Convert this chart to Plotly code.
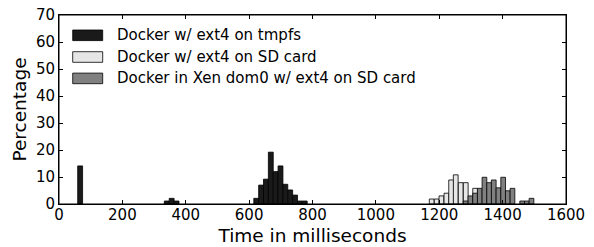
import plotly.graph_objects as go

# ---- data ----
series_names = [
    "Docker w/ ext4 on tmpfs",
    "Docker w/ ext4 on SD card",
    "Docker in Xen dom0 w/ ext4 on SD card",
]

tmpfs_x = [66.7, 340.0, 355.5, 371.0, 622.5, 637.8, 653.1, 668.4, 683.7,
           699.0, 714.3, 729.6, 744.9, 760.2, 775.5]
tmpfs_y = [14.1, 1.1, 2.1, 1.1, 2.1, 7.0, 9.2, 19.2, 12.0,
           14.1, 7.3, 5.2, 3.3, 1.1, 1.1]

sd_x = [1176.2, 1192.0, 1206.9, 1222.7, 1237.5, 1252.0, 1267.8, 1283.6,
        1299.4, 1313.3]
sd_y = [1.85, 1.85, 3.0, 4.0, 8.9, 10.8, 7.9, 7.9, 0.0, 5.8]

xen_x = [1283.6, 1298.4, 1313.2, 1327.8, 1342.6, 1357.4, 1372.0, 1386.9,
         1401.7, 1416.3, 1431.1, 1461.7, 1476.3, 1491.1]
xen_y = [1.1, 3.0, 4.0, 5.8, 9.9, 7.9, 8.9, 6.0, 9.9, 4.9, 5.8, 1.1, 1.1, 2.1]

x_ticks = [0, 200, 400, 600, 800, 1000, 1200, 1400, 1600]
y_ticks = [0, 10, 20, 30, 40, 50, 60, 70]

colors = ["#1a1a1a", "#e6e6e6", "#808080"]

FONT = "DejaVu Sans"

fig = go.Figure()
for xs, ys, col, w, name in [
    (tmpfs_x, tmpfs_y, colors[0], 15.4, series_names[0]),
    (sd_x, sd_y, colors[1], 15.1, series_names[1]),
    (xen_x, xen_y, colors[2], 14.9, series_names[2]),
]:
    fig.add_trace(go.Bar(
        x=xs, y=ys, width=w, name=name,
        marker=dict(color=col, line=dict(color="black", width=0.8)),
        showlegend=False,
    ))

W, H = 594, 247
ml, mr, mt, mb = 59, 28, 15, 43
pw, ph = W - ml - mr, H - mt - mb

def px_x(p):  # window pixel -> paper
    return (p - ml) / pw

def px_y(p):
    return (H - mb - p) / ph

row_centers = [35.3, 57.0, 78.4]
shapes = [dict(type="rect", xref="paper", yref="paper", x0=0, x1=1, y0=0, y1=1,
               line=dict(color="black", width=1), fillcolor="rgba(0,0,0,0)")]
annotations = []
for name, col, yc in zip(series_names, colors, row_centers):
    shapes.append(dict(type="rect", xref="paper", yref="paper",
                       x0=px_x(72.7), x1=px_x(102.7),
                       y0=px_y(yc + 5.3), y1=px_y(yc - 5.3),
                       fillcolor=col, line=dict(color="black", width=0.8)))
    annotations.append(dict(xref="paper", yref="paper", x=px_x(114.5),
                            y=px_y(yc), text=name, showarrow=False,
                            xanchor="left", yanchor="middle",
                            font=dict(family=FONT, size=15, color="black")))

fig.update_layout(
    width=W, height=H,
    margin=dict(l=ml, r=mr, t=mt, b=mb, pad=0, autoexpand=False),
    barmode="overlay",
    plot_bgcolor="white", paper_bgcolor="white",
    font=dict(family=FONT, size=15, color="black"),
    shapes=shapes, annotations=annotations,
    xaxis=dict(range=[0, 1600], tickvals=x_ticks, ticks="inside", ticklen=4,
               showgrid=False, zeroline=False, showline=True, linecolor="black",
               linewidth=1, mirror="ticks", tickcolor="black", automargin=False,
               tickfont=dict(size=15), ticklabelstandoff=-3,
               title=dict(text="Time in milliseconds", font=dict(size=18.5), standoff=6)),
    yaxis=dict(range=[0, 70], tickvals=y_ticks, ticks="inside", ticklen=4,
               showgrid=False, zeroline=False, showline=True, linecolor="black",
               linewidth=1, mirror="ticks", tickcolor="black", automargin=False,
               tickfont=dict(size=15),
               title=dict(text="Percentage", font=dict(size=18.5), standoff=4)),
)

# remove the default 8px page margin so the figure fills the window exactly
fig.write_html("out.html", config={"displayModeBar": False},
               post_script="document.body.style.margin='0';")
